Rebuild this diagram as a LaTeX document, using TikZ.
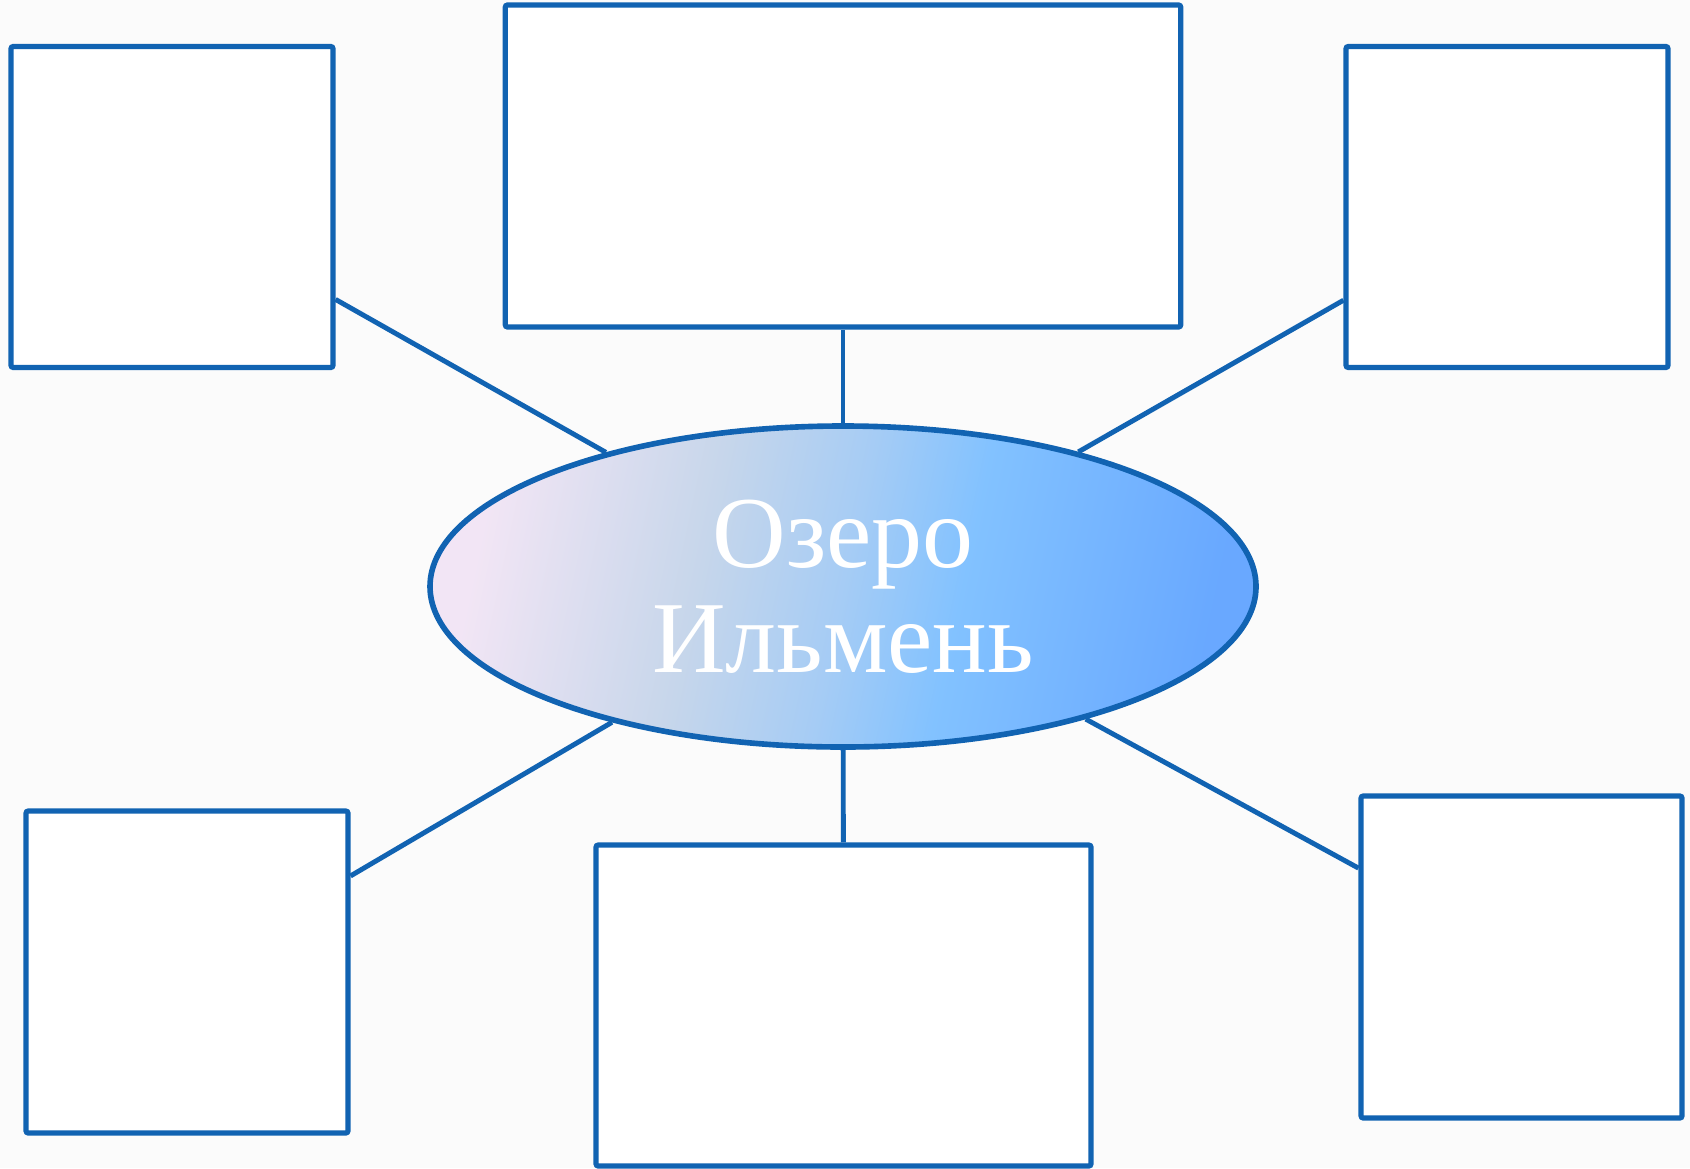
\documentclass[tikz,border=0pt]{standalone}
\usepackage{fontspec}
\usepackage{tikz}
\usetikzlibrary{shapes}
\newfontfamily\lakefont{Liberation Serif}
\definecolor{frame}{RGB}{17, 99, 178}
\definecolor{paper}{RGB}{251, 251, 251}
\pgfdeclarehorizontalshading{lakeshade}{100bp}{rgb(0bp)=(0.95,0.90,0.96); rgb(25bp)=(0.95,0.90,0.96);
        rgb(40bp)=(0.78,0.84,0.92); rgb(50bp)=(0.65,0.80,0.96); rgb(58bp)=(0.51,0.76,1.0);
        rgb(75bp)=(0.41,0.66,1.0); rgb(100bp)=(0.41,0.66,1.0)}

\begin{document}
\begin{tikzpicture}[box/.style={draw=frame, line width=1.45pt, fill=white, rounded corners=0.6pt, inner sep=0pt},
        lake/.style={ellipse, draw=frame, line width=1.6pt, shading=lakeshade, shading angle=-12,
        minimum width=8.26cm, minimum height=3.21cm, inner sep=0pt,
        align=center, text=white, font=\lakefont\fontsize{29}{30}\selectfont},
        link/.style={draw=frame, line width=1.4pt}]
        \useasboundingbox (0,0) rectangle (16.9,11.68);
        \fill [paper] (0,0) rectangle (16.9,11.68);
        \node [lake] (ilmen) at (8.43,5.815) {Озеро\\Ильмень};
        \node [box, minimum width=3.22cm, minimum height=3.21cm] (nw) at (1.72,9.61) {};
        \node [box, minimum width=6.755cm, minimum height=3.22cm] (n) at (8.43,10.02) {};
        \node [box, minimum width=3.22cm, minimum height=3.21cm] (ne) at (15.07,9.61) {};
        \node [box, minimum width=3.22cm, minimum height=3.22cm] (sw) at (1.87,1.96) {};
        \node [box, minimum width=4.95cm, minimum height=3.21cm] (s) at (8.435,1.625) {};
        \node [box, minimum width=3.21cm, minimum height=3.22cm] (se) at (15.215,2.11) {};
        \draw [link] (ilmen) -- (nw);
        \draw [link] (ilmen) -- (n);
        \draw [link] (ilmen) -- (ne);
        \draw [link] (ilmen) -- (sw);
        \draw [link] (ilmen) -- (s);
        \draw [link] (ilmen) -- (se);
    \end{tikzpicture}
\end{document}
